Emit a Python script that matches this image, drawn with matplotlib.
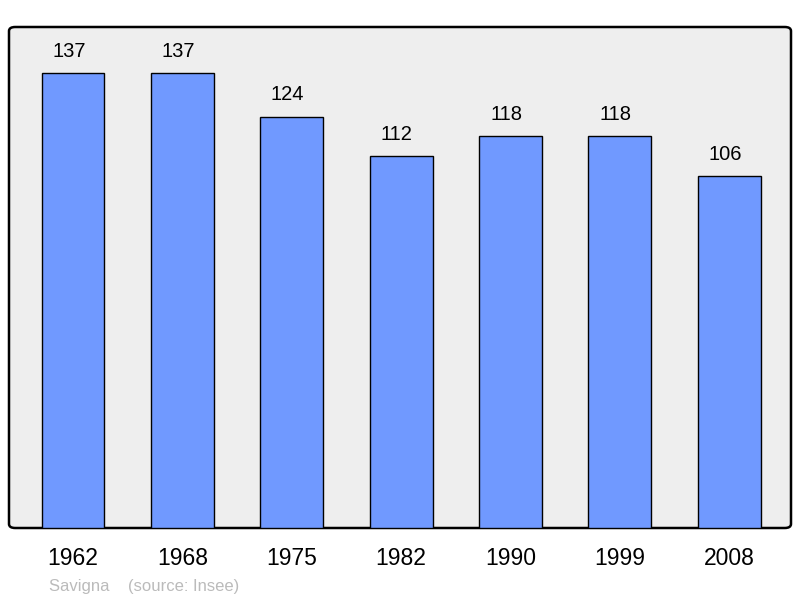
import matplotlib.pyplot as plt
from matplotlib.patches import FancyBboxPatch

plt.rcParams['font.family'] = ['Liberation Sans', 'DejaVu Sans']

# population per census year
years = ['1962', '1968', '1975', '1982', '1990', '1999', '2008']
population = [137, 137, 124, 112, 118, 118, 106]

fig = plt.figure(figsize=(8, 5.98), dpi=100)
ax = fig.add_axes([9 / 800, 70 / 598, 782 / 800, 501 / 598])
ax.set_facecolor('none')

# rounded grey frame behind the bars
frame = FancyBboxPatch((0, 0), 1, 1, boxstyle='round,pad=0,rounding_size=0.008',
                       transform=ax.transAxes, facecolor='#eeeeee',
                       edgecolor='black', linewidth=1.8, zorder=0, clip_on=False)
ax.add_patch(frame)

x = range(len(years))
bars = ax.bar(x, population, width=0.575, color='#7099ff', edgecolor='black',
              linewidth=1.0, zorder=2)
for xi, v in zip(x, population):
    ax.annotate(str(v), (xi, v), xytext=(-3, 9), textcoords='offset points',
                ha='center', va='bottom', fontsize=14.5)

ax.set_xlim(-0.585, 6.565)
ax.set_ylim(0, 151)
ax.set_xticks(list(x))
ax.set_xticklabels(years, fontsize=16.5)
ax.tick_params(axis='x', length=0, pad=14)
ax.set_yticks([])
for s in ax.spines.values():
    s.set_visible(False)

fig.text(49 / 800, 1 - 586 / 598, 'Savigna    (source: Insee)', fontsize=12,
         color='#bbbbbb', va='center', ha='left')

fig.savefig('out.png', dpi=100)
